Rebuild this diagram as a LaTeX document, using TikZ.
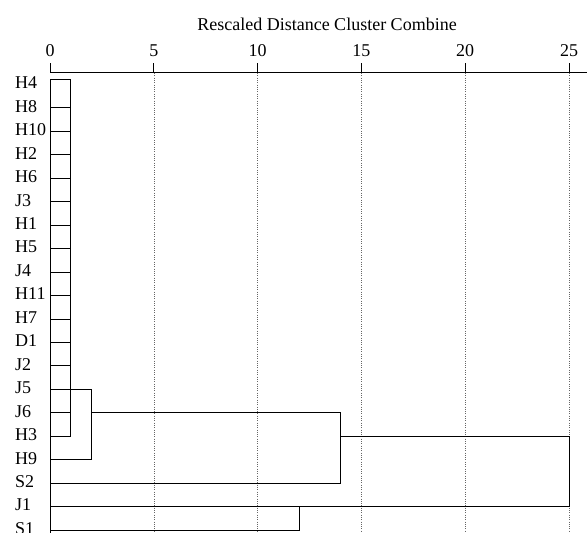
\documentclass[tikz,border=0pt]{standalone}
\usepackage{fontspec}
\setmainfont{Liberation Serif}
\newcommand\rowy[1]{84.5+23.45*#1}
\begin{document}
\begin{tikzpicture}[x=1pt,y=-1pt,
  lbl/.style={anchor=west,inner sep=0pt,font=\fontsize{18}{21}\selectfont},
  ticklbl/.style={anchor=base,inner sep=0pt,font=\fontsize{18}{21}\selectfont},
  tree/.style={line width=1pt,black},
  gridln/.style={line width=0.6pt,black!60,dash pattern=on 1pt off 1.3pt}]
\useasboundingbox (0,0) rectangle (587,533);
\def\u{20.76}
% title
\node[ticklbl] (title) at (327,30) {Rescaled Distance Cluster Combine};
% axis
\coordinate (ax0) at (50,72);
\coordinate (axend) at (587,72);
\draw[tree] (ax0) -- (axend);
\foreach \v in {0,5,...,25} {
  \node[ticklbl] (t\v) at ({50+\v*\u},56.5) {\v};
  \draw[tree] ({50+\v*\u},72) -- ({50+\v*\u},63);
}
\foreach \v in {5,10,...,25} {
  \draw[gridln] ({50+\v*\u},73) -- ({50+\v*\u},533);
}
% leaves
\foreach \n [count=\i from 0] in {H4,H8,H10,H2,H6,J3,H1,H5,J4,H11,H7,D1,J2,J5,J6,H3,H9,S2,J1,S1} {
  \node[lbl] (n\i) at (15,{\rowy{\i}-1.5}) {\n};
  \coordinate (l\i) at (50,{\rowy{\i}});
}
\coordinate (l0) at (50,79);
\coordinate (bot) at (50,533);
\draw[tree] (l0) -- (bot);
% cluster 1: H4..H3
\coordinate (c1) at ({50+1*\u},{\rowy{13}});
\draw[tree] (l0 -| c1) -- (l15 -| c1);
\foreach \i in {0,...,15} { \draw[tree] (l\i) -- (l\i -| c1); }
% cluster 2: + H9
\coordinate (c2) at ({50+2*\u},{\rowy{14}});
\draw[tree] (c1) -- (c1 -| c2) -- (l16 -| c2) -- (l16);
% cluster 3: + S2
\coordinate (c3) at ({50+14*\u},{\rowy{15}});
\draw[tree] (c2) -- (c2 -| c3) -- (l17 -| c3) -- (l17);
% cluster J1 + S1
\coordinate (c4) at ({50+12*\u},{\rowy{18}});
\draw[tree] (l19) -- (l19 -| c4) -- (c4);
% final
\coordinate (c5) at ({50+25*\u},{\rowy{15}});
\draw[tree] (c3) -- (c5) -- (l18 -| c5) -- (l18);
\end{tikzpicture}
\end{document}
